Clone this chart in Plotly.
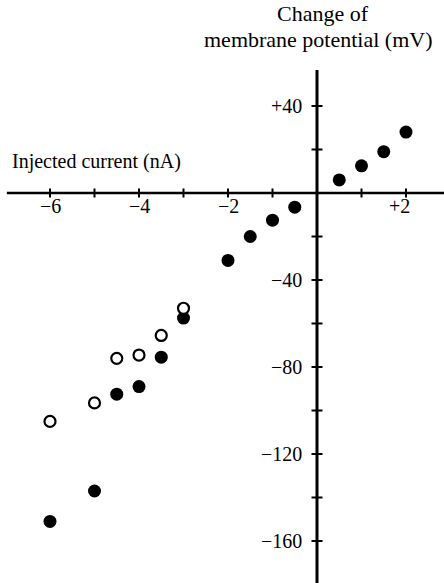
import plotly.graph_objects as go

# Data
current_filled = [-6, -5, -4.5, -4, -3.5, -3, -2, -1.5, -1, -0.5, 0.5, 1, 1.5, 2]
voltage_filled = [-151, -137, -92.5, -89, -75.5, -57.5, -31, -20, -12.5, -6.5, 6, 12.5, 19, 28]
current_open = [-6, -5, -4.5, -4, -3.5, -3]
voltage_open = [-105, -96.5, -76, -74.5, -65.5, -53]

x_ticks = [-6, -5, -4, -3, -2, -1, 1, 2]
x_tick_labels = {-6: "\u22126", -4: "\u22124", -2: "\u22122", 2: "+2"}
y_ticks = [40, 20, -20, -40, -60, -80, -100, -120, -140, -160]
y_tick_labels = {40: "+40", -40: "\u221240", -80: "\u221280", -120: "\u2212120", -160: "\u2212160"}

W, H = 444, 583
x0px, xunit = 317, 44.5
y0px, yunit = 193, 2.175
xmin, xmax = -x0px / xunit, (W - x0px) / xunit
ymax, ymin = y0px / yunit, -(H - y0px) / yunit

FONT = "Liberation Serif"

fig = go.Figure()
fig.add_trace(go.Scatter(x=current_filled, y=voltage_filled, mode="markers",
                         marker=dict(size=13, color="black", line=dict(width=0)),
                         showlegend=False, cliponaxis=False))
fig.add_trace(go.Scatter(x=current_open, y=voltage_open, mode="markers",
                         marker=dict(size=11, color="white", line=dict(width=2.2, color="black")),
                         showlegend=False, cliponaxis=False))

shapes = []
# axes
shapes.append(dict(type="line", xref="x", yref="y", x0=-6.97, x1=xmax, y0=0, y1=0,
                   line=dict(color="black", width=2.5)))
shapes.append(dict(type="line", xref="x", yref="y", x0=0, x1=0, y0=56.5, y1=ymin,
                   line=dict(color="black", width=3)))
# x ticks (cross the axis)
tx = 4.5 / yunit
for t in x_ticks:
    shapes.append(dict(type="line", xref="x", yref="y", x0=t, x1=t, y0=-tx, y1=tx,
                       line=dict(color="black", width=2)))
ty = 5.5 / xunit
for t in y_ticks:
    shapes.append(dict(type="line", xref="x", yref="y", x0=-ty, x1=ty, y0=t, y1=t,
                       line=dict(color="black", width=2)))

annotations = []
for t, lab in x_tick_labels.items():
    annotations.append(dict(x=t - (0.15 if t > 0 else 0), y=-13 / yunit, xref="x", yref="y", text=lab,
                            showarrow=False, xanchor="center", yanchor="middle",
                            font=dict(family=FONT, size=20, color="black")))
for t, lab in y_tick_labels.items():
    annotations.append(dict(x=-13 / xunit, y=t, xref="x", yref="y", text=lab,
                            showarrow=False, xanchor="right", yanchor="middle",
                            font=dict(family=FONT, size=20, color="black")))

annotations.append(dict(x=323 / W, y=1 - 14 / H, xref="paper", yref="paper", text="Change of",
                        showarrow=False, xanchor="center", yanchor="middle",
                        font=dict(family=FONT, size=22, color="black")))
annotations.append(dict(x=202 / W, y=1 - 40 / H, xref="paper", yref="paper",
                        text="membrane potential (mV)",
                        showarrow=False, xanchor="left", yanchor="middle",
                        font=dict(family=FONT, size=22, color="black")))
annotations.append(dict(x=10 / W, y=1 - 162 / H, xref="paper", yref="paper",
                        text="Injected current (nA)",
                        showarrow=False, xanchor="left", yanchor="middle",
                        font=dict(family=FONT, size=20, color="black")))

fig.update_layout(
    width=W, height=H,
    margin=dict(l=0, r=0, t=0, b=0),
    paper_bgcolor="white", plot_bgcolor="white",
    xaxis=dict(range=[xmin, xmax], visible=False, fixedrange=True),
    yaxis=dict(range=[ymin, ymax], visible=False, fixedrange=True),
    shapes=shapes, annotations=annotations,
)

fig.write_html("out.html")
